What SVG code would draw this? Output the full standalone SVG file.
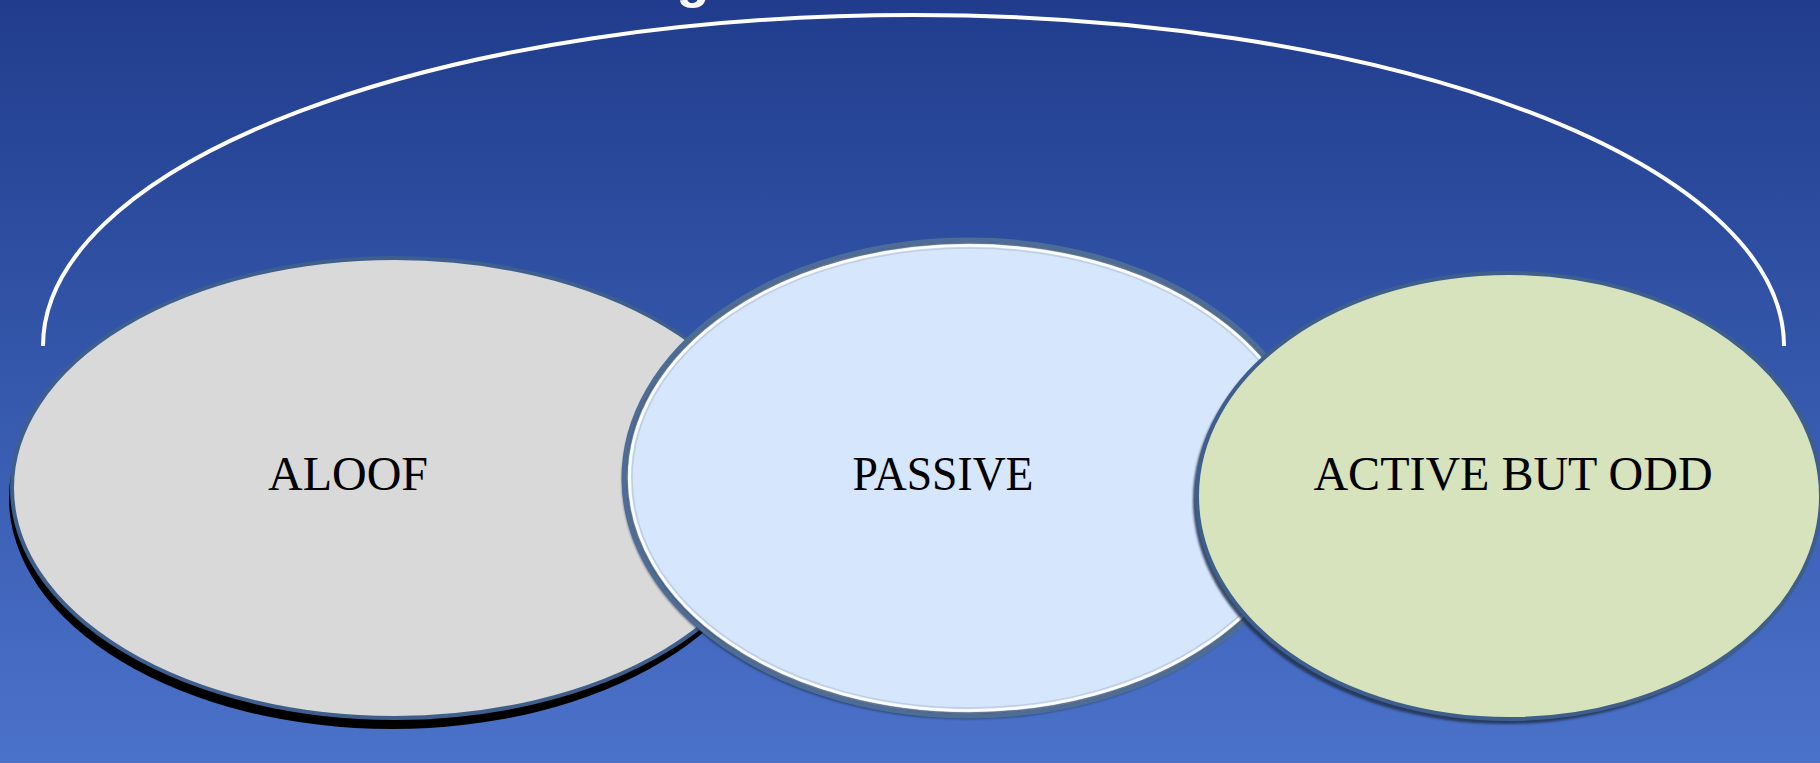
<svg xmlns="http://www.w3.org/2000/svg" width="1820" height="763" viewBox="0 0 1820 763">
  <defs>
    <linearGradient id="bg" x1="0" y1="0" x2="0" y2="1">
      <stop offset="0" stop-color="#213c8c"/>
      <stop offset="0.5" stop-color="#3558ac"/>
      <stop offset="1" stop-color="#4b72ca"/>
    </linearGradient>
    <filter id="soft" x="-5%" y="-5%" width="110%" height="110%">
      <feGaussianBlur stdDeviation="1.2"/>
    </filter>
  </defs>
  <style>
    .lbl { font-family: "Liberation Serif", "Times New Roman", serif; font-size: 48px; fill: #000; text-anchor: middle; }
    .edge { stroke: #3e5f8c; stroke-width: 4; }
  </style>
  <rect x="0" y="0" width="1820" height="763" fill="url(#bg)"/>
  <text x="693" y="-3" font-family="Liberation Sans, Arial, sans-serif" font-weight="bold" font-size="54" fill="#ffffff" text-anchor="middle">g</text>

  <g id="connectors">
    <path d="M 43 346 A 870.5 331 0 0 1 1784 346" fill="none" stroke="#ffffff" stroke-width="4"/>
  </g>

  <g id="node-aloof">
    <ellipse cx="392" cy="498" rx="383" ry="231" fill="#000000"/>
    <ellipse cx="395" cy="488" rx="383" ry="230" fill="#d9d9d9" class="edge"/>
    <text x="348" y="490" class="lbl">ALOOF</text>
  </g>

  <g id="node-passive">
    <ellipse cx="967" cy="481" rx="345" ry="238" fill="#1e2c45" opacity="0.7" filter="url(#soft)"/>
    <ellipse cx="969" cy="478" rx="345" ry="238" fill="#d6e6fd" stroke="#4d6d96" stroke-width="5"/>
    <ellipse cx="969" cy="478" rx="342" ry="235" fill="none" stroke="#1e2c45" stroke-width="1.5" opacity="0.6"/>
    <ellipse cx="969" cy="478" rx="339.5" ry="232.5" fill="none" stroke="#ffffff" stroke-width="2.5" opacity="0.9"/>
    <ellipse cx="969" cy="478" rx="337" ry="230" fill="none" stroke="#a9b6c6" stroke-width="1.5" opacity="0.5"/>
    <text x="943" y="490" class="lbl" textLength="181" lengthAdjust="spacingAndGlyphs">PASSIVE</text>
  </g>

  <g id="node-active">
    <ellipse cx="1505" cy="500" rx="312" ry="224" fill="#23334f" opacity="0.85" filter="url(#soft)"/>
    <ellipse cx="1509" cy="496" rx="312" ry="223" fill="#d7e3bd" class="edge"/>
    <text x="1513" y="490" class="lbl">ACTIVE BUT ODD</text>
  </g>
</svg>
